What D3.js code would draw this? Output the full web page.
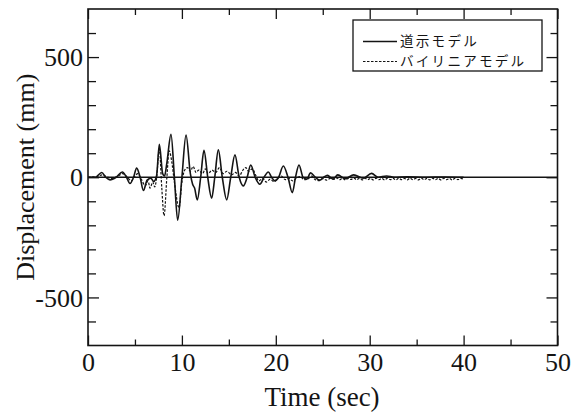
<!DOCTYPE html>
<html>
<head>
<meta charset="utf-8">
<script src="https://cdn.jsdelivr.net/npm/d3@7"></script>
<style>
  html, body { margin: 0; padding: 0; background: #fff; }
  svg { display: block; }
</style>
</head>
<body>
<svg id="chart" width="585" height="418"></svg>
<script>
// Response time histories (time in s, displacement in mm)
const seriesNames = ["道示モデル", "バイリニアモデル"];

const solidTime = [0,0.8,1.46,1.9,2.34,3.0,3.66,4.1,4.47,4.85,5.18,5.55,5.9,6.3,6.7,7.0,7.3,7.6,7.95,8.15,8.4,8.84,9.2,9.55,10.0,10.44,10.9,11.15,11.35,11.64,12.0,12.35,12.75,13.17,13.5,13.88,14.3,14.77,15.2,15.65,16.1,16.54,16.95,17.33,17.8,18.3,18.75,19.2,19.55,19.9,20.3,20.8,21.3,21.76,22.1,22.47,22.9,23.3,23.7,24.2,24.7,25.1,25.5,26.1,26.6,27.4,28.3,29.3,30.2,30.9,31.8,32.6,34,36,38,40];
const solidDisp = [0,0,20,0,-11,0,22,0,-26,0,38,0,-55,-12,-4,-18,5,137,15,5,60,179,0,-179,0,176,15,-30,-45,-94,0,112,0,-87,0,114,0,-94,0,93,0,-36,0,51,0,-29,0,22,0,-15,0,47,0,-64,0,51,0,-8,18,0,-12,0,8,-8,10,-6,10,-4,16,0,5,0,2,0,1,0];

const bilinTime = [0,1.0,1.5,2.0,2.5,3.2,3.7,4.2,4.6,5.0,5.3,5.7,6.1,6.4,6.6,6.9,7.1,7.3,7.6,7.85,8.1,8.4,8.65,8.9,9.2,9.7,10.0,10.3,10.6,10.9,11.2,11.5,11.8,12.2,12.5,12.8,13.2,13.6,14.0,14.4,14.8,15.3,15.7,16.1,16.5,16.8,17.1,17.5,17.9,18.2,18.6,19.0,19.4,19.8,20.2,20.6,21.0,21.4,21.8,22.2,22.6,23.0,23.4,23.8,24.2,24.6,25.0,25.4,25.8,26.2,26.5,26.8,27.1,27.4,27.7,28.0,28.3,28.6,28.9,29.2,29.5,29.8,30.1,30.4,30.7,31.0,31.3,31.6,31.9,32.2,32.5,32.8,33.1,33.4,33.7,34.0,34.3,34.6,34.9,35.2,35.5,35.8,36.1,36.4,36.7,37.0,37.3,37.6,37.9,38.2,38.5,38.8,39.1,39.4,39.7,40.0];
const bilinDisp = [0,3,10,2,-5,5,15,0,-15,5,15,-10,-35,-15,-45,-20,-40,-5,120,-40,-160,0,110,70,-20,-127,-20,30,40,25,45,20,30,15,35,15,30,20,40,15,25,10,20,5,30,40,25,35,5,-15,-5,-20,-8,-18,-5,5,-10,-5,-15,-3,3,-10,-8,5,-10,-14,-6,-12,-5,-9,-3,-10,-4,-11,-5,-9,-3,-10,-5,-11,-4,-10,-5,-11,-4,-10,-5,-11,-4,-10,-5,-11,-4,-10,-5,-11,-4,-10,-5,-11,-4,-10,-5,-11,-4,-10,-5,-11,-4,-10,-5,-11,-4,-10,-5,-8];

const xTicks = [0,5,10,15,20,25,30,35,40,45,50];
const xLabels = [0,10,20,30,40,50];
const yTicks = [-600,-500,-400,-300,-200,-100,0,100,200,300,400,500,600];
const yLabels = [-500,0,500];

const svg = d3.select("#chart");
const plotL = 88, plotR = 557.5, plotT = 9, plotB = 345.5;
const x = d3.scaleLinear().domain([0, 50]).range([plotL, plotR]);
const y = d3.scaleLinear().domain([-700, 700]).range([plotB, plotT]);
const ink = "#141414";
const serif = "'Liberation Serif', 'Times New Roman', serif";

// zero reference line
svg.append("line")
  .attr("x1", plotL).attr("x2", plotR)
  .attr("y1", y(0)).attr("y2", y(0))
  .attr("stroke", ink).attr("stroke-width", 1.4);

const line = d3.line()
  .x(d => x(d[0])).y(d => y(d[1]))
  .curve(d3.curveMonotoneX);

const solidData = solidTime.map((t, i) => [t, solidDisp[i]]);
const bilinData = bilinTime.map((t, i) => [t, bilinDisp[i]]);

svg.append("path").datum(bilinData)
  .attr("d", line).attr("fill", "none")
  .attr("stroke", ink).attr("stroke-width", 1.2)
  .attr("stroke-dasharray", "2.5,1.5");

svg.append("path").datum(solidData)
  .attr("d", line).attr("fill", "none")
  .attr("stroke", ink).attr("stroke-width", 1.6);

// axes with inward ticks on all four sides
function styleAxis(g, isMajor, majorLen, minorLen, attr) {
  g.select(".domain").remove();
  g.selectAll(".tick line")
    .attr("stroke", ink).attr("stroke-width", 1.3)
    .attr(attr, d => isMajor(d) ? majorLen : minorLen);
  g.selectAll(".tick text")
    .attr("font-family", serif).attr("font-size", 26).attr("fill", ink);
}
const xMajor = d => d % 10 === 0;
const yMajor = d => d % 500 === 0;

svg.append("g").attr("transform", `translate(0,${plotB})`)
  .call(d3.axisBottom(x).tickValues(xTicks)
    .tickFormat(d => xLabels.includes(d) ? d : ""))
  .call(g => styleAxis(g, xMajor, -10, -6, "y2"))
  .call(g => g.selectAll(".tick text").attr("y", 25).attr("dy", 0));

svg.append("g").attr("transform", `translate(0,${plotT})`)
  .call(d3.axisTop(x).tickValues(xTicks).tickFormat(""))
  .call(g => styleAxis(g, xMajor, 10, 6, "y2"));

svg.append("g").attr("transform", `translate(${plotL},0)`)
  .call(d3.axisLeft(y).tickValues(yTicks)
    .tickFormat(d => yLabels.includes(d) ? d : ""))
  .call(g => styleAxis(g, yMajor, 11, 8, "x2"))
  .call(g => g.selectAll(".tick text").attr("x", -5).attr("dy", "0.33em"));

svg.append("g").attr("transform", `translate(${plotR},0)`)
  .call(d3.axisRight(y).tickValues(yTicks).tickFormat(""))
  .call(g => styleAxis(g, yMajor, -11, -7, "x2"));

// frame
svg.append("rect")
  .attr("x", plotL).attr("y", plotT)
  .attr("width", plotR - plotL).attr("height", plotB - plotT)
  .attr("fill", "none").attr("stroke", ink).attr("stroke-width", 1.6);

// axis titles
svg.append("text")
  .attr("x", 322).attr("y", 406)
  .attr("text-anchor", "middle")
  .attr("font-family", serif).attr("font-size", 27).attr("fill", ink)
  .text("Time (sec)");

svg.append("text")
  .attr("transform", `translate(34,${(plotT + plotB) / 2}) rotate(-90)`)
  .attr("text-anchor", "middle")
  .attr("font-family", serif).attr("font-size", 26).attr("fill", ink)
  .text("Displacement (mm)");

// legend
const lg = svg.append("g");
lg.append("rect")
  .attr("x", 353).attr("y", 20).attr("width", 189).attr("height", 51)
  .attr("fill", "#fff").attr("stroke", ink).attr("stroke-width", 1.3);
const rowY = [41.5, 61.5];
const rowDash = [null, "2.5,1.5"];
seriesNames.forEach((name, i) => {
  lg.append("line")
    .attr("x1", 363).attr("x2", 397).attr("y1", rowY[i]).attr("y2", rowY[i])
    .attr("stroke", ink).attr("stroke-width", rowDash[i] ? 1.2 : 1.6)
    .attr("stroke-dasharray", rowDash[i]);
  lg.append("text")
    .attr("x", 400).attr("y", rowY[i]).attr("dy", "0.36em")
    .attr("font-family", "'Noto Sans CJK JP', sans-serif")
    .attr("font-size", 13.6).attr("letter-spacing", 2.2).attr("fill", ink)
    .text(name);
});
</script>
</body>
</html>
